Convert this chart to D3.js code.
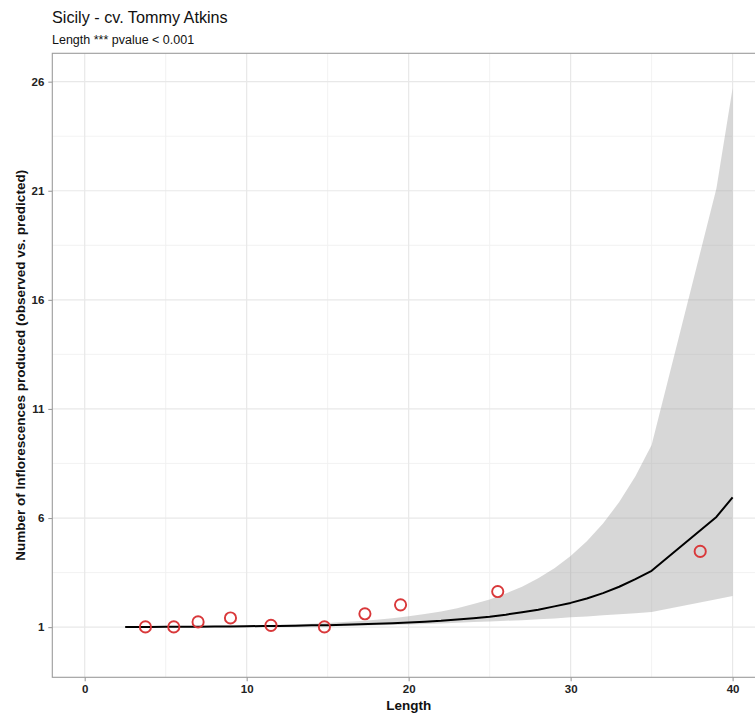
<!DOCTYPE html>
<html>
<head>
<meta charset="utf-8">
<script src="https://cdn.jsdelivr.net/npm/d3@7"></script>
<style>
  html, body { margin: 0; padding: 0; background: #fff; }
  svg { display: block; font-family: "Liberation Sans", Arial, sans-serif; }
</style>
</head>
<body>
<svg id="chart" width="755" height="713"></svg>
<script>
// Observed inflorescence counts by shoot length
const obsLength = [3.75, 5.5, 7.0, 9.0, 11.5, 14.8, 17.3, 19.5, 25.5, 38.0];
const obsCount  = [1.01, 1.01, 1.24, 1.42, 1.08, 1.01, 1.61, 2.02, 2.63, 4.47];

// Model prediction with its confidence band
const predLength = [2.5, 3, 4, 5, 6, 7, 8, 9, 10, 11, 12, 13, 14, 15, 16, 17, 18, 19, 20,
                    21, 22, 23, 24, 25, 26, 27, 28, 29, 30, 31, 32, 33, 34, 35, 39, 40];
const predFit    = [1.00, 1.01, 1.01, 1.02, 1.02, 1.02, 1.03, 1.03, 1.04, 1.05, 1.05, 1.06, 1.08,
                    1.09, 1.11, 1.13, 1.15, 1.18, 1.21, 1.25, 1.29, 1.35, 1.41, 1.48, 1.57, 1.68,
                    1.80, 1.95, 2.11, 2.31, 2.56, 2.85, 3.20, 3.58, 6.05, 6.95];
const predLower  = [0.99, 0.99, 0.99, 0.99, 0.99, 0.99, 1.00, 1.00, 1.00, 1.01, 1.01, 1.02, 1.03,
                    1.04, 1.05, 1.06, 1.08, 1.10, 1.12, 1.14, 1.17, 1.20, 1.23, 1.26, 1.29, 1.32,
                    1.36, 1.40, 1.45, 1.49, 1.54, 1.59, 1.64, 1.69, 2.28, 2.43];
const predUpper  = [1.01, 1.02, 1.03, 1.03, 1.04, 1.05, 1.06, 1.07, 1.08, 1.09, 1.11, 1.13, 1.16,
                    1.19, 1.23, 1.28, 1.34, 1.41, 1.50, 1.60, 1.72, 1.87, 2.06, 2.27, 2.54, 2.85,
                    3.24, 3.70, 4.26, 4.94, 5.75, 6.73, 7.92, 9.35, 21.1, 25.7];

// Axis breaks
const xTicks = [0, 10, 20, 30, 40];
const xMinor = [5, 15, 25, 35];
const yTicks = [1, 6, 11, 16, 21, 26];
const yMinor = [3.5, 8.5, 13.5, 18.5, 23.5];

const svg = d3.select("#chart");
const panel = { left: 52.3, right: 765, top: 53.3, bottom: 677.3 };

const x = d3.scaleLinear().domain([-2, 42]).range([panel.left, panel.right]);
const y = d3.scaleLinear().domain([-1.3, 27.3]).range([panel.bottom, panel.top]);

const g = svg.append("g");

// grid
g.selectAll("line.ymin").data(yMinor).join("line")
  .attr("x1", panel.left).attr("x2", panel.right)
  .attr("y1", d => y(d)).attr("y2", d => y(d))
  .attr("stroke", "#f0f0f0").attr("stroke-width", 0.9);
g.selectAll("line.xmin").data(xMinor).join("line")
  .attr("y1", panel.top).attr("y2", panel.bottom)
  .attr("x1", d => x(d)).attr("x2", d => x(d))
  .attr("stroke", "#f0f0f0").attr("stroke-width", 0.9);
g.selectAll("line.ymaj").data(yTicks).join("line")
  .attr("x1", panel.left).attr("x2", panel.right)
  .attr("y1", d => y(d)).attr("y2", d => y(d))
  .attr("stroke", "#e8e8e8").attr("stroke-width", 1.2);
g.selectAll("line.xmaj").data(xTicks).join("line")
  .attr("y1", panel.top).attr("y2", panel.bottom)
  .attr("x1", d => x(d)).attr("x2", d => x(d))
  .attr("stroke", "#e8e8e8").attr("stroke-width", 1.2);

// confidence band
const pred = predLength.map((d, i) => ({ x: d, fit: predFit[i], lo: predLower[i], hi: predUpper[i] }));
g.append("path").datum(pred)
  .attr("fill", "#9a9a9a").attr("fill-opacity", 0.4)
  .attr("d", d3.area().x(d => x(d.x)).y0(d => y(d.lo)).y1(d => y(d.hi)));

// fitted curve
g.append("path").datum(pred)
  .attr("fill", "none").attr("stroke", "#000").attr("stroke-width", 2)
  .attr("stroke-linejoin", "round")
  .attr("d", d3.line().x(d => x(d.x)).y(d => y(d.fit)));

// observed points
const obs = obsLength.map((d, i) => ({ x: d, y: obsCount[i] }));
g.selectAll("circle.obs").data(obs).join("circle")
  .attr("cx", d => x(d.x)).attr("cy", d => y(d.y)).attr("r", 5.6)
  .attr("fill", "none").attr("stroke", "#d9383a").attr("stroke-width", 1.9);

// panel border
g.append("rect")
  .attr("x", panel.left).attr("y", panel.top)
  .attr("width", panel.right - panel.left).attr("height", panel.bottom - panel.top)
  .attr("fill", "none").attr("stroke", "#9c9c9c").attr("stroke-width", 1.1);

// axes
const xAxis = d3.axisBottom(x).tickValues(xTicks).tickSize(4).tickPadding(4).tickFormat(d3.format("d"));
const yAxis = d3.axisLeft(y).tickValues(yTicks).tickSize(4).tickPadding(4).tickFormat(d3.format("d"));

const gx = svg.append("g").attr("transform", `translate(0,${panel.bottom})`).call(xAxis);
const gy = svg.append("g").attr("transform", `translate(${panel.left},0)`).call(yAxis);
[gx, gy].forEach(a => {
  a.select(".domain").remove();
  a.selectAll(".tick line").attr("stroke", "#9c9c9c").attr("stroke-width", 1.1);
  a.selectAll(".tick text")
    .attr("fill", "#222").attr("font-size", 11.5).attr("font-weight", "bold")
    .attr("font-family", "Liberation Sans, Arial, sans-serif");
});

// titles
svg.append("text").attr("x", 52).attr("y", 23)
  .attr("font-size", 16.2).attr("fill", "#111").text("Sicily - cv. Tommy Atkins");
svg.append("text").attr("x", 52).attr("y", 44)
  .attr("font-size", 12.5).attr("fill", "#111").text("Length *** pvalue < 0.001");

svg.append("text").attr("x", (panel.left + panel.right) / 2).attr("y", 710)
  .attr("text-anchor", "middle").attr("font-size", 13.5).attr("font-weight", "bold")
  .attr("fill", "#111").text("Length");

svg.append("text")
  .attr("transform", `translate(25,${(panel.top + panel.bottom) / 2}) rotate(-90)`)
  .attr("text-anchor", "middle").attr("font-size", 13.5).attr("font-weight", "bold")
  .attr("fill", "#111").text("Number of Inflorescences produced (observed vs. predicted)");
</script>
</body>
</html>
